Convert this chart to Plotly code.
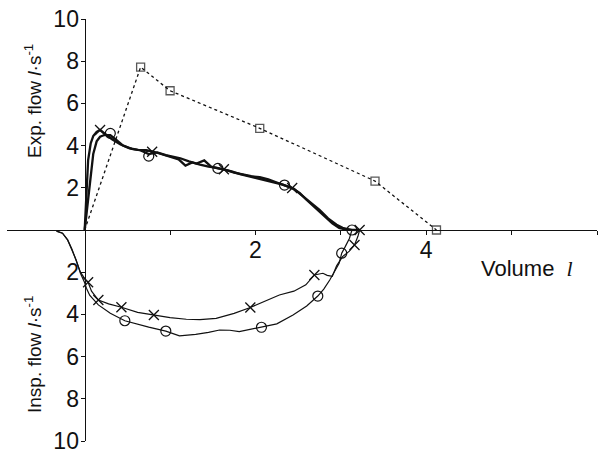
import plotly.graph_objects as go

# ---- data (Volume in l, flow in l/s; inspiration negative) ----
sq_vol = [0.0, 0.655, 1.0, 2.05, 3.40, 4.12]
sq_flow = [0.0, 7.72, 6.6, 4.82, 2.32, 0.0]
sq_marker_size = [0, 8, 8, 8, 8, 8]

exp_x_vol = [0, 0.02, 0.04, 0.07, 0.10, 0.14, 0.18, 0.24, 0.32, 0.42, 0.52, 0.62, 0.72, 0.80, 0.90,
             1.00, 1.10, 1.18, 1.26, 1.35, 1.45, 1.55, 1.63, 1.72, 1.82, 1.92, 2.02, 2.12, 2.22,
             2.32, 2.43, 2.52, 2.60, 2.70, 2.80, 2.90, 2.98, 3.05, 3.12, 3.18, 3.22]
exp_x_flow = [0, 1.8, 3.3, 4.1, 4.45, 4.65, 4.74, 4.55, 4.3, 4.05, 3.88, 3.8, 3.78, 3.72, 3.6,
              3.45, 3.35, 3.05, 3.2, 3.1, 3.0, 2.95, 2.88, 2.78, 2.65, 2.55, 2.48, 2.38, 2.28,
              2.15, 1.99, 1.75, 1.42, 1.05, 0.65, 0.32, 0.1, 0.03, 0.01, 0, 0]

exp_o_vol = [0, 0.03, 0.06, 0.10, 0.14, 0.18, 0.23, 0.30, 0.37, 0.45, 0.55, 0.65, 0.75, 0.85, 0.95,
             1.03, 1.12, 1.22, 1.31, 1.40, 1.48, 1.56, 1.65, 1.75, 1.85, 1.95, 2.05, 2.15, 2.25,
             2.34, 2.45, 2.55, 2.65, 2.75, 2.85, 2.95, 3.02, 3.08, 3.13]
exp_o_flow = [0, 1.0, 2.05, 3.6, 4.2, 4.42, 4.5, 4.5, 4.27, 4.0, 3.85, 3.78, 3.6, 3.68, 3.55,
              3.47, 3.4, 3.25, 3.15, 3.3, 3.0, 2.92, 2.85, 2.72, 2.62, 2.55, 2.5, 2.4, 2.25,
              2.13, 1.95, 1.62, 1.3, 0.95, 0.55, 0.25, 0.1, 0.03, 0]

insp_x_vol = [3.22, 3.20, 3.16, 3.10, 3.02, 2.95, 2.90, 2.84, 2.79, 2.69, 2.59, 2.45, 2.28, 2.10,
              1.94, 1.75, 1.54, 1.35, 1.19, 1.00, 0.81, 0.62, 0.43, 0.28, 0.16, 0.08, 0.04, 0.0,
              -0.05, -0.10, -0.15, -0.20, -0.26, -0.33]
insp_x_flow = [0, -0.3, -0.71, -1.0, -1.26, -1.7, -2.2, -2.15, -2.05, -2.13, -2.6, -2.9, -3.08, -3.4,
               -3.67, -3.95, -4.19, -4.25, -4.23, -4.15, -4.03, -3.9, -3.66, -3.5, -3.32, -2.9, -2.48, -2.3,
               -2.0, -1.42, -0.9, -0.47, -0.15, -0.05]

insp_o_vol = [3.13, 3.10, 3.05, 3.01, 2.98, 2.87, 2.80, 2.73, 2.60, 2.44, 2.25, 2.07, 1.95, 1.81,
              1.70, 1.58, 1.45, 1.30, 1.11, 0.95, 0.75, 0.60, 0.47, 0.30, 0.16, 0.06, 0.02, 0.0,
              -0.05, -0.10, -0.15, -0.20, -0.26, -0.33]
insp_o_flow = [0, -0.4, -0.8, -1.1, -1.58, -2.37, -2.8, -3.13, -3.6, -4.03, -4.45, -4.61, -4.7, -4.82,
               -4.75, -4.74, -4.85, -4.95, -5.02, -4.79, -4.6, -4.45, -4.3, -3.95, -3.55, -3.1, -2.76, -2.5,
               -2.05, -1.42, -0.9, -0.47, -0.15, -0.05]

mk_x_vol = [0.18, 0.79, 1.63, 2.43, 3.22, 3.16, 2.69, 1.94, 0.81, 0.43, 0.16, 0.04]
mk_x_flow = [4.74, 3.71, 2.88, 1.99, 0.0, -0.71, -2.13, -3.67, -4.03, -3.66, -3.32, -2.48]

mk_o_vol = [0.30, 0.75, 1.56, 2.34, 3.13, 3.01, 2.73, 2.07, 0.95, 0.47]
mk_o_flow = [4.58, 3.5, 2.92, 2.13, 0.0, -1.1, -3.13, -4.61, -4.79, -4.3]

y_tickvals = [-10, -8, -6, -4, -2, 2, 4, 6, 8, 10]
y_ticktext = ["10", "8", "6", "4", "2", "2", "4", "6", "8", "10"]
x_tickvals = [2, 4, 6]
x_ticktext = ["2", "4", "6"]
x_minor_tickvals = [1, 3, 5]

SANS = "Liberation Sans, Arial, sans-serif"
INK = "#111111"

fig = go.Figure()
fig.add_trace(go.Scatter(x=sq_vol, y=sq_flow, mode="lines+markers",
                         line=dict(color=INK, width=1.3, dash="dot"),
                         marker=dict(symbol="square-open", size=sq_marker_size, color=INK, line=dict(width=1.3))))
fig.add_trace(go.Scatter(x=exp_x_vol, y=exp_x_flow, mode="lines", line=dict(color=INK, width=2.3)))
fig.add_trace(go.Scatter(x=exp_o_vol, y=exp_o_flow, mode="lines", line=dict(color=INK, width=2.3)))
fig.add_trace(go.Scatter(x=insp_x_vol, y=insp_x_flow, mode="lines", line=dict(color=INK, width=1.2)))
fig.add_trace(go.Scatter(x=insp_o_vol, y=insp_o_flow, mode="lines", line=dict(color=INK, width=1.2)))
fig.add_trace(go.Scatter(x=mk_x_vol, y=mk_x_flow, mode="markers",
                         marker=dict(symbol="x-thin-open", size=10, color=INK, line=dict(width=1.3, color=INK))))
fig.add_trace(go.Scatter(x=mk_o_vol, y=mk_o_flow, mode="markers",
                         marker=dict(symbol="circle-open", size=10, color=INK, line=dict(width=1.2, color=INK))))

xmin, xmax = -0.91, 6.0
fig.update_layout(
    width=601, height=456,
    margin=dict(l=7, r=4, t=19, b=15),
    paper_bgcolor="white", plot_bgcolor="white",
    showlegend=False,
    font=dict(family=SANS, size=23, color=INK),
    xaxis=dict(range=[xmin, xmax], anchor="free", position=0.5, showgrid=False, zeroline=False,
               automargin=False,
               showline=True, linecolor=INK, linewidth=1.3,
               tickmode="array", tickvals=x_tickvals, ticktext=x_ticktext,
               ticks="outside", ticklen=4, tickwidth=1, tickcolor=INK,
               minor=dict(tickmode="array", tickvals=x_minor_tickvals, ticks="outside",
                          ticklen=4, tickwidth=1, tickcolor=INK, showgrid=False),
               tickfont=dict(family=SANS, size=23, color=INK), ticklabelstandoff=-5),
    yaxis=dict(range=[-10, 10], anchor="free", position=(0 - xmin) / (xmax - xmin),
               showgrid=False, zeroline=False, automargin=False,
               showline=True, linecolor=INK, linewidth=1.3,
               tickmode="array", tickvals=y_tickvals, ticktext=y_ticktext,
               ticks="outside", ticklen=4, tickwidth=1, tickcolor=INK,
               tickfont=dict(family=SANS, size=23, color=INK), ticklabelstandoff=-3),
)

fig.add_annotation(xref="paper", yref="paper", x=(33 - 7) / 590, y=(441 - 101) / 422,
                   text="Exp. flow <i>l</i>·s<sup>-1</sup>", textangle=-90, showarrow=False,
                   font=dict(family=SANS, size=19, color=INK), xanchor="center", yanchor="middle")
fig.add_annotation(xref="paper", yref="paper", x=(33 - 7) / 590, y=(441 - 355) / 422,
                   text="Insp. flow <i>l</i>·s<sup>-1</sup>", textangle=-90, showarrow=False,
                   font=dict(family=SANS, size=19, color=INK), xanchor="center", yanchor="middle")
fig.add_annotation(xref="paper", yref="paper", x=(527 - 7) / 590, y=(441 - 268) / 422,
                   text="Volume&nbsp;&nbsp;<span style='font-family:Liberation Serif'><i>l</i></span>",
                   showarrow=False, font=dict(family=SANS, size=22, color=INK),
                   xanchor="center", yanchor="middle")

fig.write_html("out.html", config={"displayModeBar": False},
               post_script="document.body.style.margin='0';document.body.style.padding='0';")
